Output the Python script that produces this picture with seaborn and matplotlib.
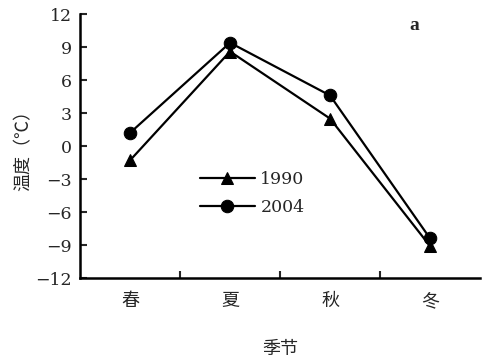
import matplotlib
matplotlib.use('Agg')
import matplotlib.pyplot as plt
import pandas as pd
import seaborn as sns

seasons = ['春', '夏', '秋', '冬']
years = ['1990', '2004']
temp_1990 = [-1.3, 8.6, 2.5, -9.1]
temp_2004 = [1.2, 9.4, 4.6, -8.4]
yticks = [-12, -9, -6, -3, 0, 3, 6, 9, 12]

df = pd.DataFrame({
    'season': seasons * 2,
    'temp': temp_1990 + temp_2004,
    'year': [years[0]] * 4 + [years[1]] * 4,
})

sns.set_style('ticks')
plt.rcParams['font.family'] = ['DejaVu Serif', 'Noto Sans CJK SC']

fig = plt.figure(figsize=(4.82, 3.62), dpi=100)
ax = fig.add_axes([0.166, 0.232, 0.830, 0.729])

sns.lineplot(data=df, x='season', y='temp', style='year', style_order=years,
             markers={'1990': '^', '2004': 'o'}, dashes=False, color='black',
             linewidth=1.6, markersize=9, markeredgecolor='black', ax=ax)

ax.set_xlim(-0.5, 3.5)
ax.set_ylim(-12, 12)
ax.set_yticks(yticks)
ax.set_yticklabels([str(v).replace('-', '−') for v in yticks], fontsize=12.5)
ax.set_xticks(range(4))
ax.set_xticklabels(seasons, family='Noto Sans CJK SC', fontsize=13)
ax.set_xticks([0.5, 1.5, 2.5], minor=True)
ax.tick_params(axis='x', which='major', length=0, pad=10)
ax.tick_params(axis='x', which='minor', direction='in', length=5, width=1.5)
ax.tick_params(axis='y', direction='in', length=5, width=1.5, pad=6)
sns.despine(ax=ax)
for s in ['left', 'bottom']:
    ax.spines[s].set_linewidth(1.8)
    ax.spines[s].set_color('black')

ax.set_xlabel('季节', family='Noto Sans CJK SC', fontsize=13, labelpad=22)
ax.set_ylabel('温度（℃）', family='Noto Sans CJK SC', fontsize=13, labelpad=2)

ax.text(0.835, 0.955, 'a', transform=ax.transAxes, fontsize=14, fontweight='bold',
        ha='center', va='center', family='Liberation Serif')

leg = ax.legend(loc='center left', bbox_to_anchor=(0.26, 0.32), frameon=False,
                handlelength=3.2, handletextpad=0.3, labelspacing=0.6, fontsize=12.5,
                title=None)

fig.savefig('out.png', dpi=100)
